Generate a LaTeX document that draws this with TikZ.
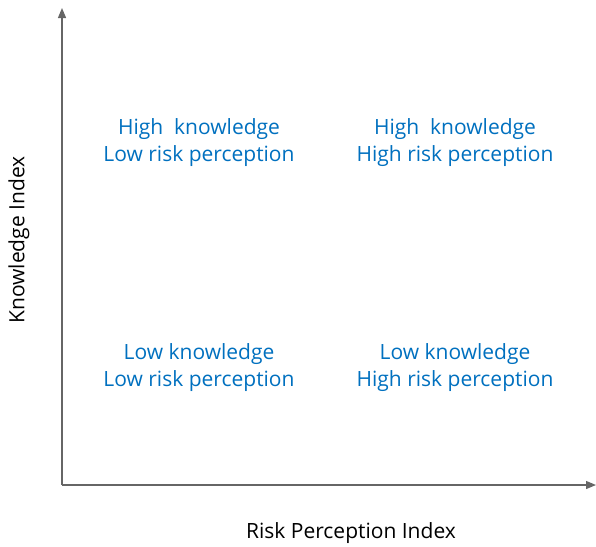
\documentclass[tikz,border=0pt]{standalone}
\usepackage{fontspec}
\setmainfont{Open Sans}
\usetikzlibrary{positioning}
\usetikzlibrary{arrows.meta}
\definecolor{axisgray}{rgb}{0.4,0.4,0.4}
\definecolor{quadblue}{rgb}{0.0,0.44,0.75}

\begin{document}
\begin{tikzpicture}[
            x = 1pt, y = -1pt, % pixel-like units
            > = {Triangle[length=10pt, width=8pt]}, % arrow head style
            semithick % line style
        ]

        \tikzstyle{quad}=[
            text = quadblue,
            align = center,
            font = \fontsize{21}{27}\selectfont
        ]
        \tikzstyle{axislabel}=[
            text = black,
            font = \fontsize{21}{24}\selectfont
        ]

        \useasboundingbox (0,0) rectangle (596,546);

	% axes
        \coordinate (O) at (62,485);
        \coordinate (YT) at (62,8);
        \coordinate (XT) at (596,485);

        \draw[->, axisgray, line width=1.2pt] (O) -- (YT);
        \draw[->, axisgray, line width=1.2pt] (O) -- (XT);

        % quadrants
        \node[quad] (HL) at (199,143) {High\ \ knowledge\\Low risk perception};
        \node[quad] (HH) at (455,143) {High\ \ knowledge\\High risk perception};
        \node[quad] (LL) at (199,368) {Low knowledge\\Low risk perception};
        \node[quad] (LH) at (455,368) {Low knowledge\\High risk perception};

        % axis titles
        \node[axislabel, rotate=90] (KI) at (19,240) {Knowledge Index};
        \node[axislabel] (RI) at (351,533) {Risk Perception Index};

\end{tikzpicture}
\end{document}
